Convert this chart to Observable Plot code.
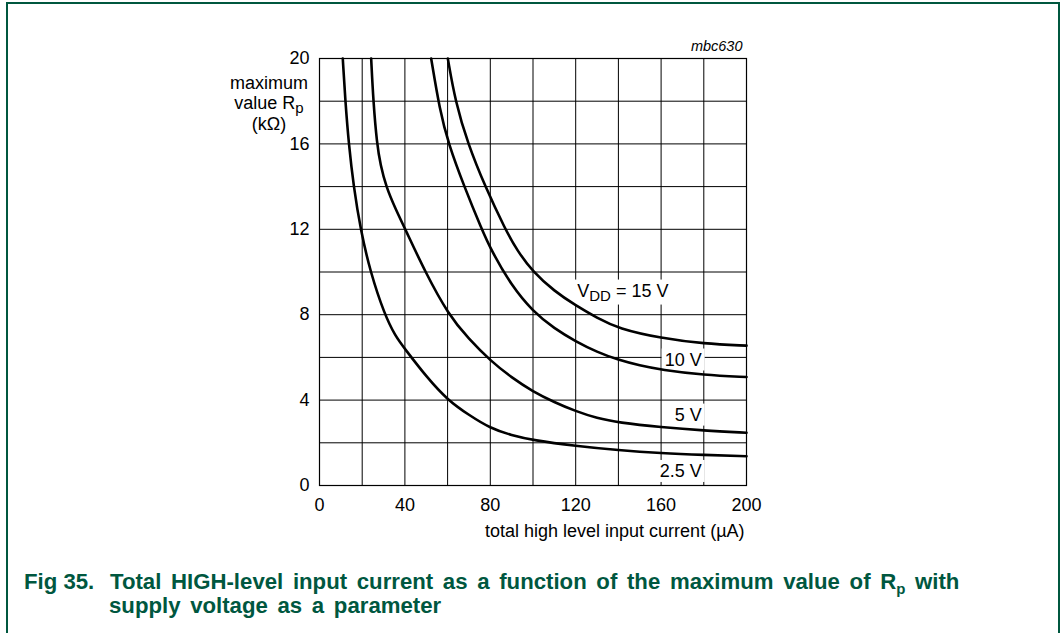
<!DOCTYPE html>
<html><head><meta charset="utf-8">
<script src="https://cdn.jsdelivr.net/npm/d3@7"></script>
<script src="https://cdn.jsdelivr.net/npm/@observablehq/plot@0.6"></script>
<style>
body{margin:0;background:#fff;font-family:"Liberation Sans",Arial,sans-serif;}
#wrap{position:relative;width:1061px;height:633px;overflow:hidden;background:#fff;}
#frame{position:absolute;left:6px;top:2px;width:1050px;height:700px;border:2px solid #00573f;border-bottom:none;}
#chart{position:absolute;left:0;top:0;}
.cap{position:absolute;color:#00573f;font-weight:bold;font-size:22.2px;line-height:22px;white-space:nowrap;font-family:"Liberation Sans",Arial,sans-serif;}
.cap sub{font-size:15px;vertical-align:-5px;line-height:0;}
</style></head><body>
<div id="wrap">
<div id="frame"></div>
<div id="chart"></div>
<div class="cap" style="left:24px;top:571px;">Fig 35.</div>
<div class="cap" style="left:110px;top:571px;word-spacing:3.5px;">Total HIGH-level input current as a function of the maximum value of R<sub>p</sub> with</div>
<div class="cap" style="left:109px;top:595px;word-spacing:3.5px;">supply voltage as a parameter</div>
</div>
<script>
// series: supply voltage; values: total high level input current (µA) vs maximum Rp (kΩ)
const series = ["2.5 V", "5 V", "10 V", "15 V"];
const x25 = [10.9, 12.1, 13.7, 16, 19.2, 23.8, 30.5, 35.5, 40, 50, 60, 70, 80, 90, 100, 120, 140, 160, 180, 200];
const y25 = [20, 18, 16, 14, 12, 10, 8, 7.0, 6.4, 5.1, 4.0, 3.3, 2.68, 2.35, 2.12, 1.85, 1.65, 1.51, 1.43, 1.37];
const x5 = [24.2, 25.2, 26.9, 28.6, 31.2, 35.4, 40.2, 49.5, 60.4, 70, 80, 90, 100, 110, 120, 130, 140, 160, 180, 200];
const y5 = [20, 18, 16, 15, 14, 13, 12, 10, 8, 6.85, 5.85, 5.05, 4.4, 3.9, 3.48, 3.15, 2.95, 2.73, 2.57, 2.47];
const x10 = [52.3, 56.3, 60.4, 67.8, 76, 80.5, 90, 100, 110, 120, 130, 140, 150, 160, 180, 200];
const y10 = [20, 17.6, 16, 14, 12, 11, 9.35, 8.15, 7.35, 6.75, 6.25, 5.88, 5.62, 5.42, 5.17, 5.08];
const x15 = [60.1, 63.6, 69.5, 77.6, 87, 92.6, 100, 110, 120, 130, 140, 160, 180, 200];
const y15 = [20, 18, 16, 14, 12, 11, 10, 9.1, 8.43, 7.85, 7.35, 6.9, 6.64, 6.55];

const xTicks = [0, 40, 80, 120, 160, 200];
const yTicks = [0, 4, 8, 12, 16, 20];
const xGrid = [20, 40, 60, 80, 100, 120, 140, 160, 180];
const yGrid = [2, 4, 6, 8, 10, 12, 14, 16, 18];

const labelStart = [{x: 120.7, y: 8.85, text: "VDD = 15 V"}];
const labelEnd = [
  {x: 179, y: 5.62, text: "10 V"},
  {x: 179, y: 3.04, text: "5 V"},
  {x: 179, y: 0.40, text: "2.5 V"}
];

const xsBy = {"2.5 V": x25, "5 V": x5, "10 V": x10, "15 V": x15};
const ysBy = {"2.5 V": y25, "5 V": y5, "10 V": y10, "15 V": y15};
const rows = series.flatMap(s => xsBy[s].map((x, i) => ({series: s, x, y: ysBy[s][i]})));

const font = "Liberation Sans, Arial, sans-serif";
const lab = {fontSize: 18, fill: "black", lineAnchor: "bottom", className: "clabel"};
const chart = Plot.plot({
  width: 1061,
  height: 550,
  marginLeft: 319,
  marginRight: 315,
  marginTop: 58,
  marginBottom: 65,
  style: {fontFamily: font, background: "transparent", color: "black"},
  x: {domain: [0, 200], axis: null},
  y: {domain: [0, 20], axis: null},
  marks: [
    Plot.ruleX(xGrid, {stroke: "black", strokeWidth: 1}),
    Plot.ruleY(yGrid, {stroke: "black", strokeWidth: 1}),
    Plot.frame({stroke: "black", strokeWidth: 1.2}),
    Plot.axisX(xTicks, {tickSize: 0, tickPadding: 13, fontSize: 18, fill: "black", label: null, tickFormat: d => String(d)}),
    Plot.axisY(yTicks, {tickSize: 0, tickPadding: 10, fontSize: 18, fill: "black", label: null, tickFormat: d => String(d)}),
    Plot.text(labelStart, {x: "x", y: "y", text: "text", textAnchor: "start", ...lab}),
    Plot.text(labelEnd, {x: "x", y: "y", text: "text", textAnchor: "end", ...lab}),
    Plot.line(rows, {x: "x", y: "y", z: "series", curve: "basis", stroke: "black", strokeWidth: 2.6}),
    Plot.text(["total high level input current (µA)"], {x: 200, frameAnchor: "bottom", dy: 51, dx: -2, textAnchor: "end", lineAnchor: "bottom", fontSize: 18, fill: "black"}),
    Plot.text(["mbc630"], {x: 200, frameAnchor: "top", dy: -8, dx: -4, textAnchor: "end", lineAnchor: "bottom", fontSize: 14.5, fontStyle: "italic", fill: "black"}),
    Plot.text([{t: "maximum", y: 18.59}, {t: "value Rp", y: 17.63}, {t: "(kΩ)", y: 16.67}],
      {x: 0, y: "y", text: "t", dx: -50.5, textAnchor: "middle", lineAnchor: "bottom", fontSize: 18, fill: "black"})
  ]
});
document.getElementById("chart").appendChild(chart);

// subscripts
chart.querySelectorAll("text").forEach(t => {
  if (t.textContent === "VDD = 15 V") {
    t.innerHTML = 'V<tspan dy="4" font-size="15">DD</tspan><tspan dy="-4"> = 15 V</tspan>';
  } else if (t.textContent === "value Rp") {
    t.innerHTML = 'value R<tspan dy="4" font-size="15">p</tspan>';
  }
});

// white boxes behind the curve labels (as in the reference)
const NS = "http://www.w3.org/2000/svg";
chart.querySelectorAll(".clabel text").forEach(t => {
  const b = t.getBBox();
  const r = document.createElementNS(NS, "rect");
  r.setAttribute("x", b.x - 3);
  r.setAttribute("y", b.y - 1);
  r.setAttribute("width", b.width + 6);
  r.setAttribute("height", b.height + 2);
  r.setAttribute("fill", "white");
  r.setAttribute("stroke", "none");
  const tr = t.getAttribute("transform");
  if (tr) r.setAttribute("transform", tr);
  t.parentNode.insertBefore(r, t);
});
</script>
</body></html>
